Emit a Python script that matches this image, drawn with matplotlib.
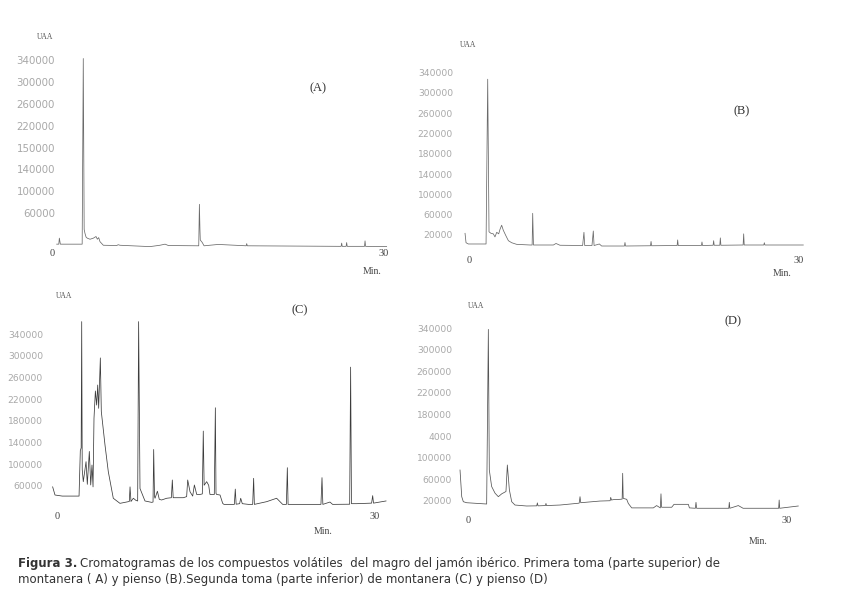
import matplotlib
matplotlib.use("Agg")
import matplotlib.pyplot as plt

W, H = 843, 595

# --- chromatogram traces (time in min, signal in UAA) ---
# (A) montanera, primera toma
t_a = [0.45, 0.64, 0.69, 0.78, 2.75, 2.85, 2.93, 3.0, 3.1, 3.21, 3.46, 3.76, 4.0, 4.12,
       4.24, 4.36, 4.66, 5.87, 6.0, 6.16, 8.87, 9.77, 10.23, 10.53, 13.27, 13.33, 13.38,
       13.41, 13.59, 13.75, 15.04, 17.55, 17.6, 17.65, 26.12, 26.17, 26.22, 26.57, 26.62,
       26.67, 28.23, 28.28, 28.33, 30.23]
uaa_a = [3000, 3000, 14000, 3000, 3000, 343000, 30000, 23000, 16000, 14000, 12000, 14000,
         17000, 12000, 15000, 7500, 1000, 500, 2000, 1000, -1500, 1000, 3000, 500, 0, 76000,
         30000, 10600, 6000, 0, 2500, 0, 4000, 0, -1000, 5000, -1000, -1000, 6000, -1000,
         -1000, 9000, -1000, -1500]

# (B) pienso, primera toma
t_b = [-0.36, -0.27, -0.06, 1.55, 1.7, 1.82, 2.0, 2.21, 2.36, 2.52, 2.7, 2.82, 2.97, 3.12,
       3.36, 3.58, 3.88, 4.33, 5.55, 5.74, 5.79, 5.86, 7.67, 7.91, 8.27, 10.33, 10.45, 10.52,
       11.18, 11.3, 11.37, 11.85, 12.06, 14.13, 14.18, 14.23, 16.5, 16.55, 16.6, 18.92, 18.97,
       19.02, 21.13, 21.18, 21.23, 22.19, 22.24, 22.29, 22.8, 22.85, 22.9, 24.92, 24.97,
       25.02, 26.8, 26.85, 26.9, 30.39]
uaa_b = [23000, 4500, 2000, 2000, 327000, 26000, 23000, 22000, 16000, 25000, 22000, 31000,
         39000, 29000, 18000, 8500, 4500, 1300, 0, 0, 62500, 0, 0, 3000, -500, -1000, 25000,
         -1000, -1000, 27600, -1000, 2000, -2000, -2000, 5000, -2000, -1500, 7000, -1500,
         -1000, 10000, -1000, -1000, 6000, -1000, -500, 8500, -500, -500, 14000, -500, 0,
         22000, 0, 0, 4500, 0, 0]

# (C) montanera, segunda toma
t_c = [-0.41, -0.19, 0.5, 2.08, 2.2, 2.28, 2.33, 2.38, 2.48, 2.74, 2.86, 3.05, 3.18, 3.3,
       3.4, 3.49, 3.62, 3.74, 3.84, 3.93, 4.09, 4.18, 4.53, 4.84, 5.31, 5.94, 6.73, 6.82,
       6.89, 6.98, 7.2, 7.45, 7.61, 7.7, 7.83, 8.3, 8.93, 9.06, 9.12, 9.2, 9.25, 9.47, 9.65,
       9.87, 10.35, 10.79, 10.88, 10.96, 11.92, 12.23, 12.33, 12.55, 12.8, 12.96, 13.18,
       13.49, 13.71, 13.8, 13.88, 14.12, 14.31, 14.43, 14.84, 14.94, 15.0, 15.06, 15.38,
       15.63, 15.75, 16.73, 16.82, 16.9, 17.23, 17.33, 17.48, 18.05, 18.46, 18.55, 18.62,
       19.78, 20.72, 21.29, 21.64, 21.73, 21.8, 24.9, 25.0, 25.08, 25.75, 26.0, 27.61, 27.7,
       27.78, 28.27, 29.68, 29.78, 29.86, 31.04]
uaa_c = [58000, 43000, 41000, 41000, 125000, 130000, 363000, 90000, 67600, 104500, 62700,
         123400, 61500, 98300, 58000, 184500, 235000, 209000, 246000, 203000, 296000, 197000,
         135000, 86000, 37000, 27600, 30700, 31000, 58000, 31000, 37000, 33000, 32000, 363000,
         55000, 32000, 29400, 30000, 127000, 40000, 37000, 50000, 35000, 33800, 37000, 38000,
         70700, 38000, 38000, 40000, 70700, 49000, 41000, 61500, 44000, 44000, 45000, 161000,
         61000, 67600, 61000, 44000, 44000, 204000, 46000, 44000, 43000, 27600, 25700, 25700,
         53900, 26000, 27000, 37000, 27000, 25700, 25700, 73800, 25700, 30700, 37000, 25700,
         25700, 93400, 25700, 25700, 75000, 25700, 30000, 25700, 26000, 279000, 27000, 27000,
         28000, 41800, 28000, 32000]

# (D) pienso, segunda toma
t_d = [-0.78, -0.62, -0.47, -0.16, 1.73, 1.89, 1.98, 2.2, 2.52, 2.83, 3.15, 3.55, 3.68, 3.87,
       4.09, 4.4, 5.5, 6.45, 6.51, 6.57, 7.27, 7.32, 7.37, 8.64, 10.21, 10.45, 10.53, 10.6,
       12.41, 13.37, 13.42, 13.5, 13.67, 14.3, 14.5, 14.55, 14.6, 14.93, 15.08, 15.4, 17.44,
       17.75, 18.1, 18.16, 18.22, 19.17, 19.39, 20.74, 20.84, 21.4, 21.46, 21.52, 24.55, 24.6,
       24.65, 25.45, 25.9, 29.25, 29.3, 29.35, 31.1]
uaa_d = [77000, 27500, 18200, 16300, 13900, 338000, 77000, 46400, 34000, 27500, 32800, 37100,
         86300, 40200, 18200, 12000, 10200, 10500, 16000, 10500, 11000, 15000, 11000, 12000,
         15000, 15500, 27500, 16300, 19400, 20000, 26200, 21300, 22000, 22600, 23000, 70900,
         24400, 22600, 15000, 6700, 6700, 11000, 6700, 32800, 7900, 7900, 13300, 13300, 6700,
         6000, 17000, 6000, 6000, 17000, 6000, 11000, 6000, 6000, 21300, 6000, 10200]

# y tick labels as printed (the scan garbles a few of them)
yt_a = [340000, 300000, 260000, 220000, 180000, 140000, 100000, 60000]
yl_a = ["340000", "300000", "260000", "220000", "150000", "140000", "100000", "60000"]
yt_b = [340000, 300000, 260000, 220000, 180000, 140000, 100000, 60000, 20000]
yl_b = ["340000", "300000", "260000", "220000", "180000", "140000", "100000", "60000", "20000"]
yt_c = [340000, 300000, 260000, 220000, 180000, 140000, 100000, 60000]
yl_c = ["340000", "300000", "260000", "220000", "180000", "140000", "100000", "60000"]
yt_d = [340000, 300000, 260000, 220000, 180000, 140000, 100000, 60000, 20000]
yl_d = ["340000", "300000", "260000", "220000", "180000", "4000", "100000", "60000", "20000"]

letters = ["(A)", "(B)", "(C)", "(D)"]

# layout per panel: pixel of t=0, px per min, pixel of 0 UAA, px per 1000 UAA,
# right edge of y labels, centre of x labels, positions of UAA / letter / Min.
panels = [
    dict(t=t_a, y=uaa_a, yt=yt_a, yl=yl_a, x0=51.7, sx=11.08, y0=245.8, sy=0.546,
         yl_right=55, xl_y=253, ysize=7.4, color="#6a6a6a",
         uaa=(45, 37), letter=(318, 88), minlab=(372, 272)),
    dict(t=t_b, y=uaa_b, yt=yt_b, yl=yl_b, x0=469, sx=11.0, y0=245, sy=0.507,
         yl_right=453, xl_y=260, ysize=6.6, color="#6a6a6a",
         uaa=(468, 45), letter=(742, 111), minlab=(782, 274)),
    dict(t=t_c, y=uaa_c, yt=yt_c, yl=yl_c, x0=57, sx=10.6, y0=518.3, sy=0.5418,
         yl_right=43, xl_y=516, ysize=6.6, color="#3c3c3c",
         uaa=(64, 296), letter=(300, 310), minlab=(323, 532)),
    dict(t=t_d, y=uaa_d, yt=yt_d, yl=yl_d, x0=468.3, sx=10.61, y0=511.5, sy=0.5388,
         yl_right=452, xl_y=520, ysize=6.6, color="#555555",
         uaa=(476, 306), letter=(733, 321), minlab=(758, 542)),
]

XLIM = (-1.5, 32)
YLIM = (-20000, 375000)
PAD = 2.0  # points
serif = "Liberation Serif"

fig = plt.figure(figsize=(W / 100, H / 100), dpi=100)
fig.patch.set_facecolor("white")

for p, letter in zip(panels, letters):
    left = p["x0"] + XLIM[0] * p["sx"]
    right = p["x0"] + XLIM[1] * p["sx"]
    top = p["y0"] - YLIM[1] / 1000 * p["sy"]
    bottom = p["y0"] - YLIM[0] / 1000 * p["sy"]
    ax = fig.add_axes([left / W, 1 - bottom / H, (right - left) / W, (bottom - top) / H])
    ax.patch.set_visible(False)

    ax.plot(p["t"], p["y"], color=p["color"], lw=0.55)
    ax.set_xlim(XLIM)
    ax.set_ylim(YLIM)

    # put the (invisible) axis lines where the printed labels sit
    pad_px = PAD * 100 / 72
    t_spine = (p["yl_right"] + pad_px - p["x0"]) / p["sx"]
    y_spine = (p["y0"] - (p["xl_y"] - 3.7 - pad_px)) / p["sy"] * 1000
    ax.spines["left"].set_position(("data", t_spine))
    ax.spines["bottom"].set_position(("data", y_spine))
    for s in ax.spines.values():
        s.set_visible(False)

    ax.set_xticks([0, 30])
    ax.set_xticklabels(["0", "30"], fontfamily=serif, fontsize=7.5, color="#444444")
    ax.set_yticks(p["yt"])
    ax.set_yticklabels(p["yl"], fontfamily="DejaVu Sans", fontsize=p["ysize"], color="#a8a8a8")
    ax.tick_params(length=0, pad=PAD)

    ux, uy = p["uaa"]
    fig.text(ux / W, 1 - uy / H, "UAA", ha="center", va="center",
             fontfamily=serif, fontsize=5.5, color="#555555")
    lx, ly = p["letter"]
    fig.text(lx / W, 1 - ly / H, letter, ha="center", va="center",
             fontfamily=serif, fontsize=9, color="#333333")
    mx, my = p["minlab"]
    fig.text(mx / W, 1 - my / H, "Min.", ha="center", va="center",
             fontfamily=serif, fontsize=7, color="#444444")

# caption
cap_font = "DejaVu Sans"
cap_size = 8.5
bold = fig.text(18 / W, 1 - 564 / H, "Figura 3.", ha="left", va="center",
                fontfamily=cap_font, fontsize=cap_size, fontweight="bold", color="#333333")
renderer = fig.canvas.get_renderer()
bb = bold.get_window_extent(renderer)
fig.text((bb.x1 + 3) / W, 1 - 564 / H,
         "Cromatogramas de los compuestos volátiles  del magro del jamón ibérico. "
         "Primera toma (parte superior) de",
         ha="left", va="center", fontfamily=cap_font, fontsize=cap_size, color="#333333")
fig.text(18 / W, 1 - 579 / H,
         "montanera ( A) y pienso (B).Segunda toma (parte inferior) de montanera (C) y pienso (D)",
         ha="left", va="center", fontfamily=cap_font, fontsize=cap_size, color="#333333")

fig.savefig("out.png", dpi=100)
